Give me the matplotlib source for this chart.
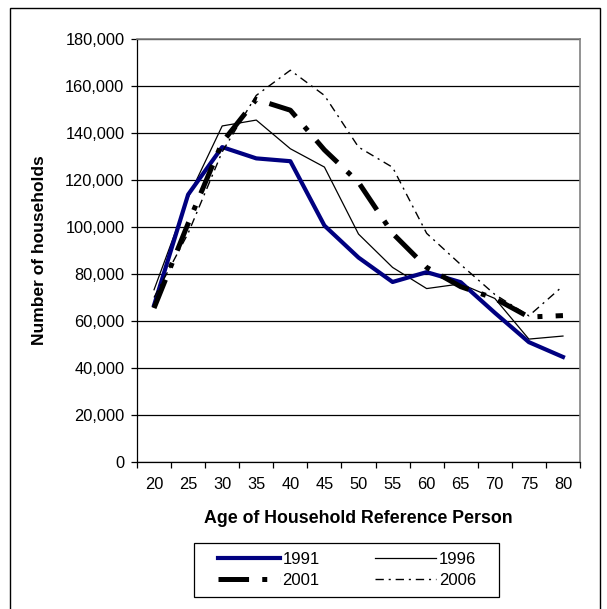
import matplotlib
matplotlib.use("Agg")
import matplotlib.pyplot as plt
from matplotlib.patches import Rectangle
from matplotlib.ticker import FuncFormatter, FixedLocator

plt.rcParams['font.family'] = ['Liberation Sans', 'DejaVu Sans']
plt.rcParams['lines.scale_dashes'] = False

ages = ["20", "25", "30", "35", "40", "45", "50", "55", "60", "65", "70", "75", "80"]
hh_1991 = [66700, 113800, 134000, 129200, 128000, 100600, 87000, 76600, 80800, 76500, 63500, 51000, 44700]
hh_1996 = [73300, 112500, 143000, 145500, 133300, 125500, 97000, 82800, 73800, 75800, 69600, 52300, 53600]
hh_2001 = [65500, 101500, 136000, 154300, 149700, 132800, 119000, 97300, 82800, 74600, 69600, 61700, 62300]
hh_2006 = [70000, 97300, 132000, 156000, 166700, 156000, 134000, 125400, 97300, 84000, 71300, 62200, 74900]

fig = plt.figure(figsize=(6.07, 6.09), dpi=100)
ax = fig.add_axes([137/607, 1-462/609, 443/607, 423/609])

x = list(range(len(ages)))
l91, = ax.plot(x, hh_1991, color='#000080', lw=3.0, solid_joinstyle='round', label='1991', zorder=4)
l96, = ax.plot(x, hh_1996, color='black', lw=0.9, label='1996', zorder=3)
l01, = ax.plot(x, hh_2001, color='black', lw=3.6, dashes=(22, 9.5, 3.6, 9.5),
               dash_capstyle='butt', label='2001', zorder=5)
l06, = ax.plot(x, hh_2006, color='black', lw=1.0, dashes=(6, 3.5, 1.5, 3.5), label='2006', zorder=5)

ax.set_xlim(-0.5, len(ages) - 0.5)
ax.set_ylim(0, 180000)
ax.set_yticks(range(0, 180001, 20000))
ax.yaxis.set_major_formatter(FuncFormatter(lambda v, p: f"{int(v):,}"))
ax.yaxis.grid(True, color='black', lw=0.9)
ax.set_axisbelow(True)

ax.set_xticks(x)
ax.set_xticklabels(ages)
ax.xaxis.set_minor_locator(FixedLocator([i - 0.5 for i in range(len(ages) + 1)]))
ax.tick_params(axis='x', which='major', length=0, pad=11, labelsize=11.8)
ax.tick_params(axis='x', which='minor', length=4, width=0.9, direction='out')
ax.tick_params(axis='y', length=4, width=0.9, pad=5, labelsize=11.8)

for s in ['top', 'right']:
    ax.spines[s].set_color('#808080')
    ax.spines[s].set_linewidth(1.2)
for s in ['left', 'bottom']:
    ax.spines[s].set_color('black')
    ax.spines[s].set_linewidth(0.9)

ax.set_xlabel("Age of Household Reference Person", fontsize=12.8, fontweight='bold', labelpad=13)
ax.set_ylabel("Number of households", fontsize=12.5, fontweight='bold', labelpad=13)

# legend: row-wise order 1991, 1996 / 2001, 2006
leg = fig.legend([l91, l01, l96, l06], ['1991', '2001', '1996', '2006'],
                 loc='center', bbox_to_anchor=(347/607, 1-570/609),
                 ncol=2, fontsize=12, frameon=False,
                 handlelength=3.7, handletextpad=0.15, borderpad=0,
                 labelspacing=0.38, columnspacing=3.3)

fig.patches.append(Rectangle((194/607, 1-597/609), 305/607, 54/609, transform=fig.transFigure,
                             fill=False, edgecolor='black', lw=0.9))
fig.patches.append(Rectangle((10/607, -0.02), 590/607, 1.02 - 7.5/609, transform=fig.transFigure,
                             fill=False, edgecolor='black', lw=1.0))

fig.savefig("out.png", dpi=100)
